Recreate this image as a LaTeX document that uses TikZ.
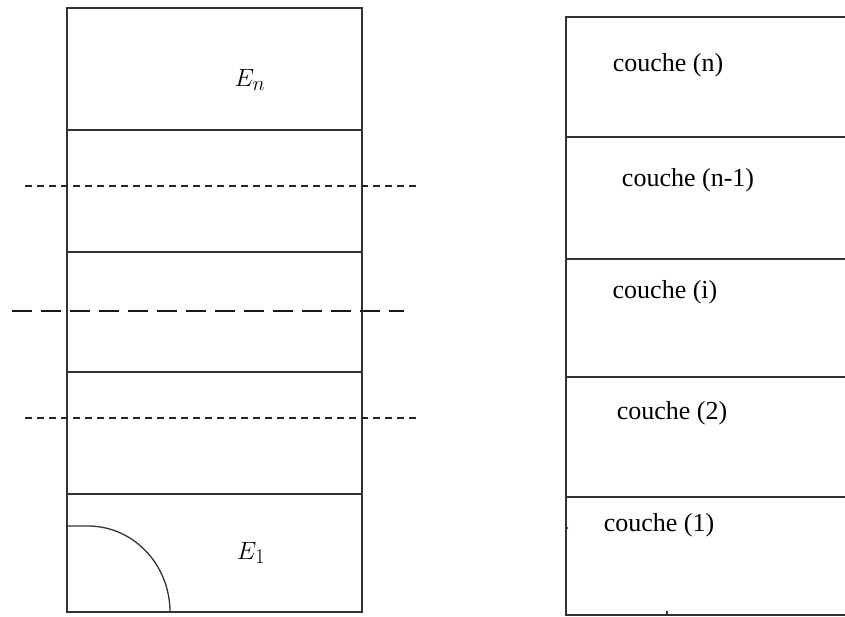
\documentclass[tikz,border=0pt]{standalone}
\usepackage{fontspec}
\setmainfont{Liberation Serif}
\begin{document}
\begin{tikzpicture}[x=1pt,y=-1pt,
  box/.style={draw=black!80,line width=1.6pt},
  sep/.style={draw=black!80,line width=1.6pt},
  thindash/.style={draw=black!85,line width=1.1pt,dash pattern=on 7pt off 5pt},
  thickdash/.style={draw=black!90,line width=2.8pt,dash pattern=on 20pt off 9pt},
  lbl/.style={inner sep=0pt,font=\fontsize{26}{30}\selectfont},
  mlbl/.style={inner sep=0pt,font=\fontsize{30}{34}\selectfont}]
\useasboundingbox (0,0) rectangle (845,617);
% left column
\draw[box] (67,8) rectangle (362,612);
\foreach \yy in {130,252,372,494} \draw[sep] (67,\yy) -- (362,\yy);
\draw[thindash] (25,186) -- (417,186);
\draw[thindash] (25,418) -- (417,418);
\draw[thickdash] (12,311) -- (404,311);
\draw[draw=black!80,line width=1.3pt] (67,526) -- (88,526) arc[start angle=-90,end angle=0,x radius=82,y radius=86];
\node[mlbl] (En) at (250,80) {$E_n$};
\node[mlbl] (E1) at (251,553) {$E_1$};
% right column
\draw[box] (845,17) -- (566,17) -- (566,615) -- (845,615);
\foreach \yy in {137,259,377,497} \draw[sep] (566,\yy) -- (845,\yy);
\draw[draw=black!80,line width=1.3pt] (667,611) -- (667,615);
\fill[black!80] (567.5,528) circle (0.9);
\node[lbl] (cn) at (668,65) {couche (n)};
\node[lbl] (cn1) at (688,180) {couche (n-1)};
\node[lbl] (ci) at (665,292) {couche (i)};
\node[lbl] (c2) at (672,413) {couche (2)};
\node[lbl] (c1) at (659,525) {couche (1)};
\end{tikzpicture}
\end{document}
